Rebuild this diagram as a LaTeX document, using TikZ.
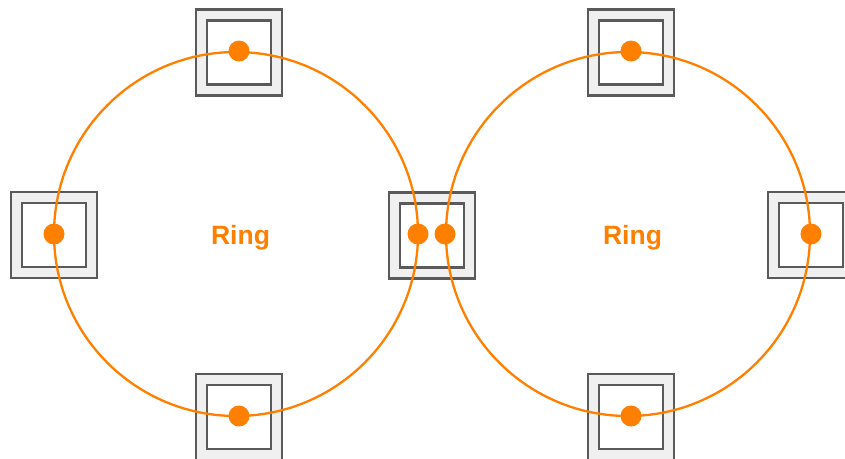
\documentclass[tikz,border=0pt]{standalone}
\usepackage{fontspec}
\setmainfont{Liberation Sans}
\definecolor{ringorange}{HTML}{FF7F00}
\definecolor{boxgray}{HTML}{5A5A5A}
\definecolor{boxfill}{HTML}{F0F0F0}
\begin{document}
\begin{tikzpicture}[x=1pt, y=-1pt,
    outerbox/.style={rectangle, draw=boxgray, line width=2.7pt, fill=boxfill, minimum size=86pt, inner sep=0pt},
    innerbox/.style={rectangle, draw=boxgray, line width=2.7pt, fill=white, minimum size=64pt, inner sep=0pt},
    ring/.style={circle, draw=ringorange, line width=2.3pt, minimum size=364pt, inner sep=0pt},
    port/.style={circle, fill=ringorange, minimum size=21pt, inner sep=0pt},
    ringlabel/.style={text=ringorange, font=\bfseries\fontsize{26.5}{26.5}\selectfont}]
    \useasboundingbox (0,0) rectangle (845,458);

    % Draw the switch boxes
    \foreach \name/\px/\py in {bTL/239/52.5, bL/54/235, bM/432/235.5, bR/811/235,
                               bBL/239/417, bTR/631/52.5, bBR/631/417} {
        \node[outerbox] (\name) at (\px,\py) {};
        \node[innerbox] (\name in) at (\px,\py) {};
    }

    % Draw the two rings
    \node[ring] (ringL) at (236,234) {};
    \node[ring] (ringR) at (628,234) {};
    \node[ringlabel] (labL) at (240.5,238) {Ring};
    \node[ringlabel] (labR) at (632.5,238) {Ring};

    % Draw the ports on the rings
    \node[port] (p1) at (239,51) {};
    \node[port] (p2) at (54,234) {};
    \node[port] (p3) at (418,234) {};
    \node[port] (p4) at (239,416) {};
    \node[port] (p5) at (445,234) {};
    \node[port] (p6) at (631,51) {};
    \node[port] (p7) at (811,234) {};
    \node[port] (p8) at (631,416) {};
\end{tikzpicture}
\end{document}
